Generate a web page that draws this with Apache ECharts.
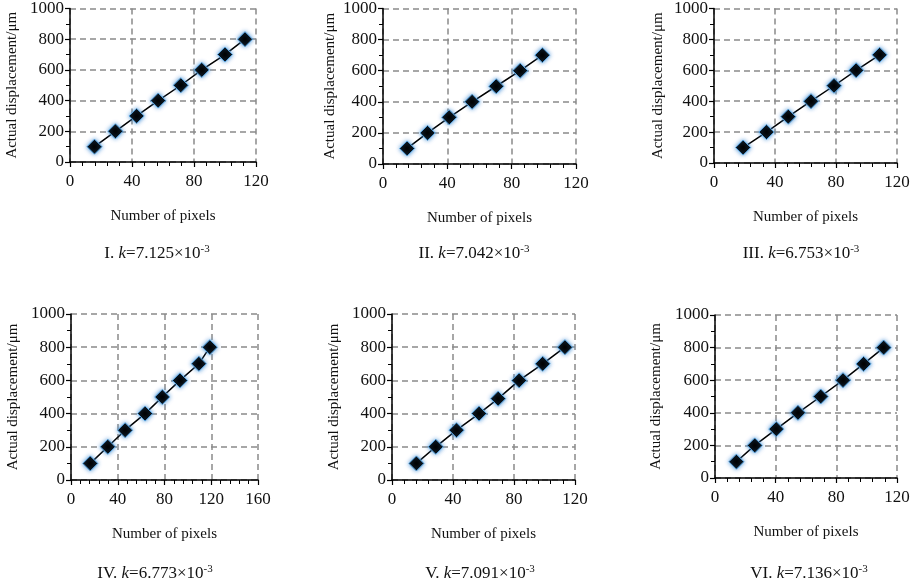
<!DOCTYPE html>
<html>
<head>
<meta charset="utf-8">
<script src="https://cdn.jsdelivr.net/npm/echarts@6/dist/echarts.min.js"></script>
<style>
  html, body { margin: 0; padding: 0; background: #fff; }
  #main { width: 913px; height: 583px; }
</style>
</head>
<body>
<div id="main"></div>
<script>
// data
var pixelsI   = [15.8, 29.3, 43.0, 56.9, 71.5, 85.0, 100.0, 112.9];
var dispI     = [100, 200, 300, 400, 500, 600, 700, 800];
var pixelsII  = [15.0, 27.7, 41.2, 55.4, 70.4, 85.3, 99.1];
var dispII    = [100, 200, 300, 400, 500, 600, 700];
var pixelsIII = [19.1, 34.4, 48.7, 63.6, 78.7, 93.2, 108.6];
var dispIII   = [100, 200, 300, 400, 500, 600, 700];
var pixelsIV  = [16.5, 31.5, 46.3, 63.4, 78.1, 93.2, 109.4, 118.8];
var dispIV    = [100, 200, 300, 400, 500, 600, 700, 800];
var pixelsV   = [16.0, 28.7, 42.3, 57.1, 69.6, 83.4, 98.8, 113.4];
var dispV     = [100, 200, 300, 400, 490, 600, 700, 800];
var pixelsVI  = [14.1, 26.2, 40.4, 54.7, 69.7, 84.4, 98.0, 111.2];
var dispVI    = [100, 200, 300, 400, 500, 600, 700, 800];

var panelNames = ['I', 'II', 'III', 'IV', 'V', 'VI'];
var kValues    = ['7.125', '7.042', '6.753', '6.773', '7.091', '7.136'];
var xMaxes     = [120, 120, 120, 160, 120, 120];
var yMax       = 1000;

var xName = 'Number of pixels';
var yName = 'Actual displacement/\u03bcm';

var allPixels = [pixelsI, pixelsII, pixelsIII, pixelsIV, pixelsV, pixelsVI];
var allDisp   = [dispI, dispII, dispIII, dispIV, dispV, dispVI];

// plot boxes (px) and caption centres
var boxes = [
  { left: 70,  top: 7,   width: 186, height: 155, yGap: 50 },
  { left: 383, top: 8,   width: 193, height: 156, yGap: 45 },
  { left: 714, top: 7,   width: 183, height: 156, yGap: 48 },
  { left: 71,  top: 314, width: 187, height: 166, yGap: 50 },
  { left: 392, top: 314, width: 183, height: 166, yGap: 50 },
  { left: 715, top: 315, width: 182, height: 163, yGap: 51 }
];
var captionPos = [[157, 254], [474, 254], [801, 254], [155, 574], [480, 574], [809, 574]];

var serif = 'Liberation Serif, Times New Roman, serif';

var grids = [], xAxes = [], yAxes = [], series = [], graphics = [];

function plain(v) { return String(v); }

for (var i = 0; i < 6; i++) {
  var b = boxes[i];
  grids.push({ left: b.left, top: b.top, width: b.width, height: b.height, containLabel: false });

  xAxes.push({
    gridIndex: i, type: 'value', min: 0, max: xMaxes[i], interval: 40,
    name: xName, nameLocation: 'middle', nameGap: 47,
    nameTextStyle: { fontFamily: serif, fontSize: 15, color: '#111' },
    axisLine: { lineStyle: { color: '#000', width: 1.5 } },
    axisTick: { show: true, length: 5, lineStyle: { color: '#000', width: 1.2 } },
    minorTick: { show: true, splitNumber: 5, length: 4, lineStyle: { color: '#000', width: 1 } },
    axisLabel: { fontFamily: serif, fontSize: 17, color: '#111', margin: 11, formatter: plain },
    splitLine: { show: true, lineStyle: { color: '#8a8a8a', width: 1.5, type: [6, 4] } }
  });

  yAxes.push({
    gridIndex: i, type: 'value', min: 0, max: yMax, interval: 200,
    name: yName, nameLocation: 'middle', nameGap: b.yGap,
    nameTextStyle: { fontFamily: serif, fontSize: 15, color: '#111' },
    axisLine: { show: true, lineStyle: { color: '#000', width: 1.5 } },
    axisTick: { show: true, length: 5, lineStyle: { color: '#000', width: 1.2 } },
    minorTick: { show: true, splitNumber: 2, length: 4, lineStyle: { color: '#000', width: 1 } },
    axisLabel: { fontFamily: serif, fontSize: 17, color: '#111', margin: 6, formatter: plain },
    splitLine: { show: true, lineStyle: { color: '#8a8a8a', width: 1.5, type: [6, 4] } }
  });

  var pts = allPixels[i].map(function (x, j) { return [x, allDisp[i][j]]; });
  series.push({
    type: 'line', xAxisIndex: i, yAxisIndex: i, data: pts,
    symbol: 'diamond', symbolSize: 15,
    lineStyle: { color: '#000', width: 1.5 },
    itemStyle: { color: '#000', borderColor: '#5aa5e0', borderWidth: 1, shadowBlur: 4, shadowColor: 'rgba(60,140,215,0.9)' },
    z: 3
  });

  // caption, e.g. "I. k=7.125×10^-3"
  graphics.push({
    type: 'text', x: captionPos[i][0], y: captionPos[i][1],
    style: {
      text: '{n|' + panelNames[i] + '. }{i|k}{n|=' + kValues[i] + '\u00d710}{s|-3}',
      align: 'center', verticalAlign: 'middle',
      rich: {
        n: { fontFamily: serif, fontSize: 17, fill: '#111', lineHeight: 20 },
        i: { fontFamily: serif, fontSize: 17, fontStyle: 'italic', fill: '#111', lineHeight: 20 },
        s: { fontFamily: serif, fontSize: 11, fill: '#111', verticalAlign: 'top', lineHeight: 20, padding: [0, 0, 8, 0] }
      }
    }
  });
}

var chart = echarts.init(document.getElementById('main'));
chart.setOption({
  backgroundColor: '#fff',
  animation: false,
  grid: grids,
  xAxis: xAxes,
  yAxis: yAxes,
  series: series,
  graphic: graphics
});
</script>
</body>
</html>
